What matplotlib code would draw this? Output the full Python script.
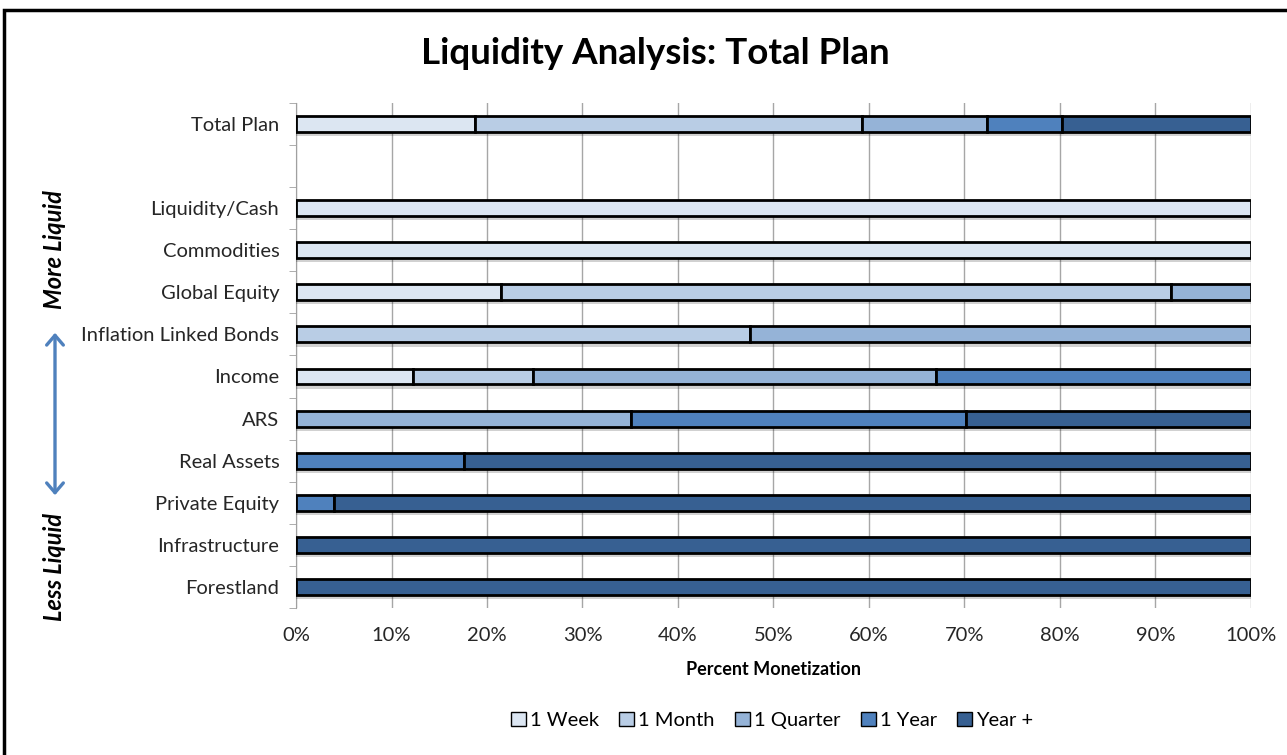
import matplotlib
matplotlib.use("Agg")
import matplotlib.pyplot as plt
import matplotlib.patheffects as pe
from matplotlib.patches import Rectangle, FancyArrowPatch
import numpy as np

plt.rcParams['font.family'] = ['Lato', 'DejaVu Sans']

categories = ["Total Plan", "", "Liquidity/Cash", "Commodities", "Global Equity",
              "Inflation Linked Bonds", "Income", "ARS", "Real Assets",
              "Private Equity", "Infrastructure", "Forestland"]
series = ["1 Week", "1 Month", "1 Quarter", "1 Year", "Year +"]
week    = [18.7, 0, 100, 100, 21.5, 0,    12.3, 0,    0,    0,   0,   0]
month   = [40.6, 0, 0,   0,   70.1, 47.5, 12.5, 0,    0,    0,   0,   0]
quarter = [13.1, 0, 0,   0,   8.4,  52.5, 42.2, 35.1, 0,    0,   0,   0]
year    = [7.8,  0, 0,   0,   0,    0,    33.0, 35.1, 17.6, 4.0, 0,   0]
yearplus= [19.8, 0, 0,   0,   0,    0,    0,    29.8, 82.4, 96.0, 100, 100]
colors = ["#DCE6F2", "#B9CDE5", "#95B3D7", "#4F81BD", "#376092"]

fig = plt.figure(figsize=(12.87, 7.55), dpi=100)
ax = fig.add_axes([0.230, 0.1947, 0.742, 0.669])

y = np.arange(len(categories))
data = [week, month, quarter, year, yearplus]
left = np.zeros(len(categories))
shadow = [pe.SimplePatchShadow(offset=(0, -3), shadow_rgbFace='#000000', alpha=0.18), pe.Normal()]
for vals, col, name in zip(data, colors, series):
    vals = np.array(vals, dtype=float)
    mask = vals > 0
    bars = ax.barh(y[mask], vals[mask] / 100.0, left=left[mask], height=0.38,
                   color=col, edgecolor='black', linewidth=2, label=name, zorder=3)
    for b in bars:
        b.set_path_effects(shadow)
    left += vals / 100.0

ax.set_xlim(0, 1)
ax.set_ylim(len(categories) - 0.5, -0.5)
ax.set_xticks(np.linspace(0, 1, 11))
ax.set_xticklabels([f"{int(v)}%" for v in np.linspace(0, 100, 11)], fontsize=14.5, color='#262626')
ax.set_yticks(y)
ax.set_yticklabels(categories, fontsize=14.5, color='#262626')
ax.tick_params(axis='y', which='major', length=0, pad=12)
ax.set_yticks(np.arange(-0.5, len(categories), 1.0), minor=True)
ax.tick_params(axis='y', which='minor', length=5, color='#A0A0A0')
ax.tick_params(axis='x', length=0, pad=14)
ax.grid(axis='x', color='#A6A6A6', linewidth=1, zorder=0)
for s in ['top', 'right', 'bottom']:
    ax.spines[s].set_visible(False)
ax.spines['left'].set_color('#A0A0A0')
ax.set_xlabel("Percent Monetization", fontsize=13, fontweight='bold', labelpad=12, color='#000000')

fig.text(655 / 1287, 1 - 54 / 755, "Liquidity Analysis: Total Plan", ha='center', va='center',
         fontsize=26.5, fontweight='bold')

leg = fig.legend(loc='center', bbox_to_anchor=(772 / 1287, 0.046), ncol=5, frameon=False,
                 fontsize=14.5, handlelength=0.75, handleheight=0.75, handletextpad=0.2,
                 columnspacing=1.0)
for h in leg.legend_handles:
    h.set_path_effects([])
    h.set_linewidth(1)

fig.text(55 / 1287, 1 - 250 / 755, "More Liquid", rotation=90, ha='center', va='center',
         fontsize=17, fontweight='bold', fontstyle='italic')
fig.text(55 / 1287, 1 - 567 / 755, "Less Liquid", rotation=90, ha='center', va='center',
         fontsize=17, fontweight='bold', fontstyle='italic')
arrow = FancyArrowPatch((55 / 1287, 1 - 330 / 755), (55 / 1287, 1 - 498 / 755),
                        transform=fig.transFigure, arrowstyle='<->,head_length=7,head_width=6',
                        color='#4F81BD', linewidth=2.4, mutation_scale=1)
fig.patches.append(arrow)

frame = Rectangle((4 / 1287, -0.05), 1.2, 1 - 10 / 755 + 0.05, transform=fig.transFigure,
                  fill=False, edgecolor='black', linewidth=2.5)
fig.patches.append(frame)

fig.savefig("out.png", dpi=100)
